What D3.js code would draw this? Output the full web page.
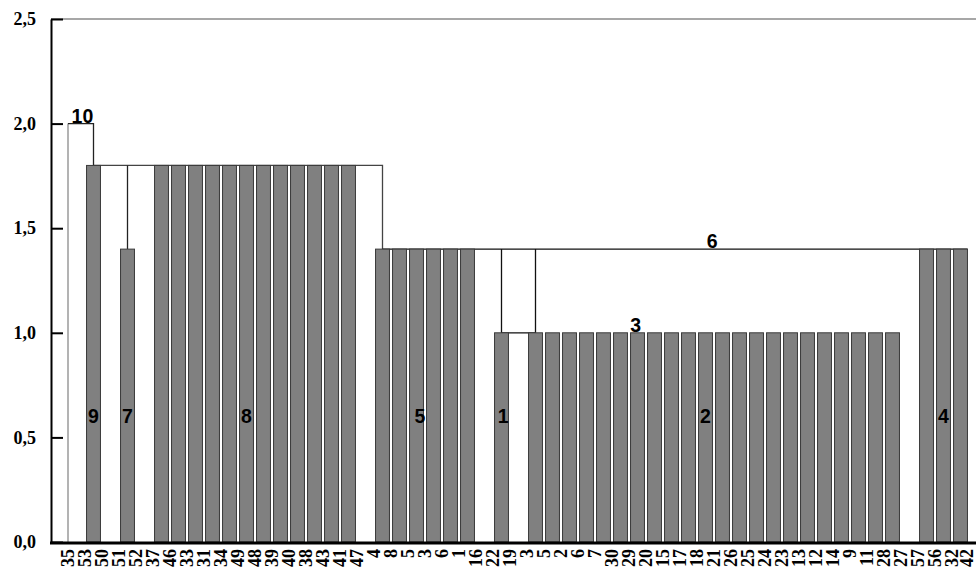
<!DOCTYPE html>
<html>
<head>
<meta charset="utf-8">
<script src="https://cdn.jsdelivr.net/npm/d3@7"></script>
<style>
  body { margin: 0; background: #fff; }
  svg { display: block; }
</style>
</head>
<body>
<div id="chart"></div>
<script>
// leaf order on the x axis (some labels repeat, so the scale works on index)
const labels = ["35","53","50","51","52","37","46","33","31","34","49","48","39","40","38","43","41","47",
  "4","8","5","3","6","1","16","22","19","3","5","2","6","7","30","29","20","15","17","18","21","26",
  "25","24","23","13","12","14","9","11","28","27","57","56","32","42"];

// bar heights per leaf (0 = no bar)
const heights = [0,1.8,0,1.4,0,1.8,1.8,1.8,1.8,1.8,1.8,1.8,1.8,1.8,1.8,1.8,1.8,0,
  1.4,1.4,1.4,1.4,1.4,1.4,0,1.0,0,1.0,1.0,1.0,1.0,1.0,1.0,1.0,1.0,1.0,1.0,1.0,1.0,1.0,
  1.0,1.0,1.0,1.0,1.0,1.0,1.0,1.0,1.0,0,1.4,1.4,1.4,0];

const yTicks = [0, 0.5, 1.0, 1.5, 2.0, 2.5];

// joining lines, as [leaf position, level] points
const joinLines = [
  [[-0.5, 0], [-0.5, 2.0]],
  [[-0.5, 2.0], [1, 2.0], [1, 1.8]],
  [[1, 1.8], [18, 1.8], [18, 1.4]],
  [[3, 1.8], [3, 1.4]],
  [[18, 1.4], [52.41, 1.4]],
  [[25, 1.4], [25, 1.0], [27, 1.0], [27, 1.4]]
];
const joinColors = ["#8a8a8a", "#222", "#444", "#222", "#111", "#111"];

// cluster numbers: name, leaf position, level
const clusterNames = ["10", "9", "7", "8", "5", "1", "2", "4", "6", "3"];
const clusterPos = [0.35, 1, 3, 10, 20.2, 25.1, 37, 51, 37.4, 32.9];
const clusterLevel = [2.0, 0.6, 0.6, 0.6, 0.6, 0.6, 0.6, 0.6, 1.4, 1.0];
const clusterAbove = [true, false, false, false, false, false, false, false, true, true];

const width = 976, height = 572;
const svg = d3.select("#chart").append("svg")
  .attr("width", width)
  .attr("height", height);

const x = d3.scaleBand()
  .domain(d3.range(labels.length))
  .range([68, 68 + 17 * labels.length])
  .paddingInner(0.18)
  .paddingOuter(0.09);

const y = d3.scaleLinear().domain([0, 2.5]).range([542, 19]);

const bw = x.bandwidth();
const xc = p => x(0) + bw / 2 + p * x.step();

// frame top
svg.append("line")
  .attr("x1", 51).attr("x2", width)
  .attr("y1", y(2.5)).attr("y2", y(2.5))
  .attr("stroke", "#8a8a8a").attr("stroke-width", 1.5);

const line = d3.line().x(d => xc(d[0])).y(d => y(d[1]));
svg.append("g").selectAll("path")
  .data(joinLines)
  .join("path")
  .attr("d", line)
  .attr("fill", "none")
  .attr("stroke", (d, i) => joinColors[i])
  .attr("stroke-width", 1.3);

svg.append("g").selectAll("rect")
  .data(heights.map((v, i) => ({ v, i })).filter(d => d.v > 0))
  .join("rect")
  .attr("x", d => x(d.i))
  .attr("width", bw)
  .attr("y", d => y(d.v))
  .attr("height", d => y(0) - y(d.v))
  .attr("fill", "#808080")
  .attr("stroke", "#3a3a3a")
  .attr("stroke-width", 1);

// y axis
const yAxis = svg.append("g")
  .attr("transform", "translate(51,0)")
  .call(d3.axisLeft(y)
    .tickValues(yTicks)
    .tickSize(-12)
    .tickSizeOuter(0)
    .tickPadding(15)
    .tickFormat(d => d3.format(".1f")(d).replace(".", ",")));
yAxis.select(".domain").attr("stroke", "#000").attr("stroke-width", 2);
yAxis.selectAll(".tick line").attr("stroke", "#000").attr("stroke-width", 2);
yAxis.selectAll(".tick text")
  .attr("fill", "#000")
  .style("font-family", "'Liberation Serif', 'Times New Roman', serif")
  .style("font-weight", "bold")
  .style("font-size", "18px");

// x baseline
svg.append("line")
  .attr("x1", 50).attr("x2", width)
  .attr("y1", y(0) + 1).attr("y2", y(0) + 1)
  .attr("stroke", "#000").attr("stroke-width", 3);

// x labels
svg.append("g").selectAll("text")
  .data(labels)
  .join("text")
  .attr("transform", (d, i) => `translate(${Math.min(x(i) + bw / 2 - 9, 967)},549) rotate(-90)`)
  .attr("text-anchor", "end")
  .attr("dy", "0.35em")
  .style("font-family", "'Liberation Serif', 'Times New Roman', serif")
  .style("font-weight", "bold")
  .style("font-size", "18px")
  .text(d => d);

// cluster numbers
svg.append("g").selectAll("text")
  .data(clusterNames)
  .join("text")
  .attr("x", (d, i) => xc(clusterPos[i]))
  .attr("y", (d, i) => clusterAbove[i] ? y(clusterLevel[i]) - 1 : y(clusterLevel[i]) + 7)
  .attr("text-anchor", "middle")
  .style("font-family", "'Liberation Sans', Arial, sans-serif")
  .style("font-weight", "bold")
  .style("font-size", "19.5px")
  .text(d => d);
</script>
</body>
</html>
